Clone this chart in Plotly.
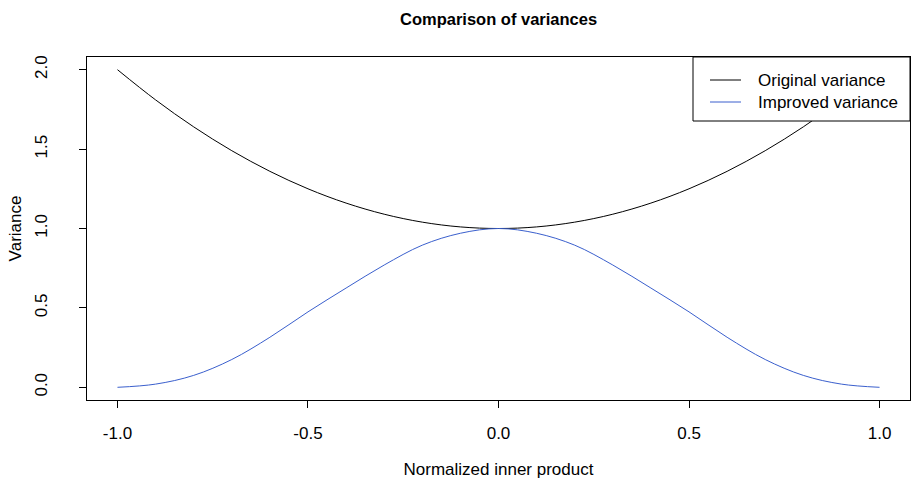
import plotly.graph_objects as go

# Data
x_vals = [-1.0, -0.9, -0.8, -0.7, -0.6, -0.5, -0.4, -0.3, -0.2, -0.1, 0.0,
          0.1, 0.2, 0.3, 0.4, 0.5, 0.6, 0.7, 0.8, 0.9, 1.0]
original_variance = [2.0, 1.81, 1.64, 1.49, 1.36, 1.25, 1.16, 1.09, 1.04, 1.01, 1.0,
                     1.01, 1.04, 1.09, 1.16, 1.25, 1.36, 1.49, 1.64, 1.81, 2.0]
improved_variance = [0.0, 0.02, 0.075, 0.175, 0.315, 0.475, 0.625, 0.77, 0.895, 0.97, 1.0,
                     0.97, 0.895, 0.77, 0.625, 0.475, 0.315, 0.175, 0.075, 0.02, 0.0]
series_names = ["Original variance", "Improved variance"]
series_colors = ["black", "#3A5FCD"]
x_ticks = [-1.0, -0.5, 0.0, 0.5, 1.0]
y_ticks = [0.0, 0.5, 1.0, 1.5, 2.0]

FONT = "Liberation Sans, Arial, Helvetica, sans-serif"
W, H = 911, 484
L, R, T, B = 87, 910, 57, 400  # plot area in pixels


def px_x(p):
    return (p - L) / (R - L)


def px_y(p):
    return (B - p) / (B - T)


fig = go.Figure()
for yv, nm, col in zip([original_variance, improved_variance], series_names, series_colors):
    fig.add_trace(go.Scatter(x=x_vals, y=yv, mode="lines", name=nm, showlegend=False,
                             hoverinfo="skip",
                             line=dict(color=col, width=1, shape="spline", smoothing=1.0)))

# Legend drawn manually (R style, top-right, boxed)
shapes = [dict(type="rect", xref="paper", yref="paper",
               x0=px_x(693), x1=px_x(910), y0=px_y(121), y1=px_y(57),
               line=dict(color="black", width=1), fillcolor="white", layer="above")]
annotations = []
for i, (nm, col) in enumerate(zip(series_names, series_colors)):
    yy = 80 + 22 * i
    shapes.append(dict(type="line", xref="paper", yref="paper",
                       x0=px_x(710), x1=px_x(741), y0=px_y(yy), y1=px_y(yy),
                       line=dict(color=col, width=1), layer="above"))
    annotations.append(dict(text=nm, xref="paper", yref="paper", x=px_x(756), y=px_y(yy),
                            xanchor="left", yanchor="middle", showarrow=False,
                            font=dict(size=17, family=FONT, color="black")))

annotations.append(dict(text="<b>Comparison of variances</b>", xref="paper", yref="paper",
                        x=0.5, y=px_y(19), xanchor="center", yanchor="middle", showarrow=False,
                        font=dict(size=16.5, family=FONT, color="black")))

fig.update_layout(
    width=W, height=H,
    margin=dict(l=L, r=W - R, t=T, b=H - B, autoexpand=False),
    paper_bgcolor="white", plot_bgcolor="white",
    font=dict(family=FONT, size=17, color="black"),
    showlegend=False,
    shapes=shapes, annotations=annotations,
    xaxis=dict(range=[-1.08, 1.08], tickvals=x_ticks, ticktext=[f"{v:.1f}" for v in x_ticks],
               showgrid=False, zeroline=False, showline=True, mirror=True, automargin=False,
               linecolor="black", linewidth=1, ticks="outside", ticklen=7,
               tickcolor="black", tickwidth=1, ticklabelstandoff=11,
               tickfont=dict(size=17, family=FONT),
               title=dict(text="Normalized inner product", standoff=20,
                          font=dict(size=17, family=FONT))),
    yaxis=dict(range=[-0.08, 2.08], tickvals=y_ticks, ticktext=[f"{v:.1f}" for v in y_ticks],
               tickangle=-90,
               showgrid=False, zeroline=False, showline=True, mirror=True, automargin=False,
               linecolor="black", linewidth=1, ticks="outside", ticklen=7,
               tickcolor="black", tickwidth=1, ticklabelstandoff=25,
               tickfont=dict(size=17, family=FONT),
               title=dict(text="Variance", standoff=6,
                          font=dict(size=17, family=FONT))),
)

fig.write_html("out.html",
               config={"displayModeBar": False},
               post_script="document.body.style.margin='0';document.body.style.padding='0';")
